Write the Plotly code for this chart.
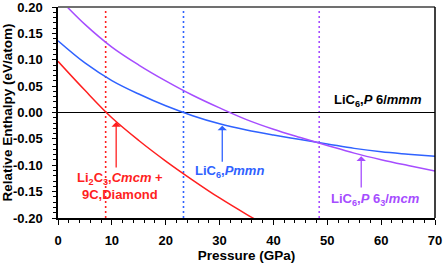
import plotly.graph_objects as go

# Pressure grid (GPa)
pressure = [0, 5, 10, 15, 20, 25, 30, 35, 40, 45, 50, 55, 60, 65, 70]

# Relative enthalpy (eV/atom) vs LiC6 P6/mmm
red_p = [0, 5, 10, 15, 20, 25, 30, 35, 40]
red_h = [0.097, 0.042, -0.010, -0.053, -0.092, -0.128, -0.162, -0.193, -0.222]
blue_h = [0.136, 0.094, 0.0606, 0.035, 0.0127, -0.0060, -0.0214, -0.0332, -0.0427,
          -0.0512, -0.0595, -0.0680, -0.0745, -0.0790, -0.0830]
purple_h = [0.218, 0.167, 0.124, 0.090, 0.060, 0.0327, 0.0087, -0.0135, -0.0318,
            -0.0475, -0.0625, -0.0770, -0.0895, -0.1005, -0.1110]

# Transition pressures (GPa)
trans_p = [8.85, 23.3, 48.5]

# Tick labels
x_ticks = [0, 10, 20, 30, 40, 50, 60, 70]
y_ticks = [-0.20, -0.15, -0.10, -0.05, 0.00, 0.05, 0.10, 0.15, 0.20]

RED = "#FF1F1F"
BLUE = "#2F62FF"
PURPLE = "#A64DFF"
colors = [RED, BLUE, PURPLE]
FONT = "Liberation Sans, Arial, sans-serif"

fig = go.Figure()
fig.add_trace(go.Scatter(x=red_p, y=red_h, mode="lines", line=dict(color=RED, width=1.5, shape="spline")))
fig.add_trace(go.Scatter(x=pressure, y=blue_h, mode="lines", line=dict(color=BLUE, width=1.5, shape="spline")))
fig.add_trace(go.Scatter(x=pressure, y=purple_h, mode="lines", line=dict(color=PURPLE, width=1.5, shape="spline")))

for p, c in zip(trans_p, colors):
    fig.add_shape(type="line", xref="x", yref="y", x0=p, x1=p, y0=-0.2, y1=0.2,
                  line=dict(color=c, width=1.6, dash="2px,3px"), layer="below")

# top frame (gray)
fig.add_shape(type="line", xref="paper", yref="paper", x0=0, x1=1, y0=1, y1=1,
              line=dict(color="#707070", width=2))
# right frame
fig.add_shape(type="line", xref="paper", yref="paper", x0=1, x1=1, y0=0, y1=1,
              line=dict(color="black", width=1.5))

# arrows: (head x, head y, tail y, color)
arrows = [
    (10.8, -0.018, -0.107, RED),
    (30.5, -0.025, -0.096, BLUE),
    (56.3, -0.083, -0.145, PURPLE),
]
for hx, hy, ty, c in arrows:
    fig.add_annotation(x=hx, y=hy, ax=hx, ay=ty, xref="x", yref="y", axref="x", ayref="y",
                       text="", showarrow=True, arrowhead=1, arrowsize=1.2, arrowwidth=1.3,
                       arrowcolor=c)

labels = [
    (11.5, -0.14, "<b>Li<sub>2</sub>C<sub>3</sub>,<i>Cmcm</i> +<br>9C,Diamond</b>", RED),
    (31.8, -0.111, "<b>LiC<sub>6</sub>,<i>Pmmn</i></b>", BLUE),
    (58.9, -0.164, "<b>LiC<sub>6</sub>,<i>P</i> 6<sub>3</sub>/<i>mcm</i></b>", PURPLE),
    (59.4, 0.023, "<b>LiC<sub>6</sub>,<i>P</i> 6/<i>mmm</i></b>", "#000000"),
]
for x, y, t, c in labels:
    fig.add_annotation(x=x, y=y, xref="x", yref="y", text=t, showarrow=False,
                       font=dict(family=FONT, size=13, color=c),
                       xanchor="center", yanchor="middle", align="center")

fig.update_layout(
    width=443, height=264,
    margin=dict(l=58, r=8, t=7, b=46, autoexpand=False),
    plot_bgcolor="white", paper_bgcolor="white",
    showlegend=False,
    font=dict(family=FONT, size=13, color="black"),
)
fig.update_xaxes(
    range=[0, 70], tickmode="array", tickvals=x_ticks,
    ticktext=[f"<b>{v}</b>" for v in x_ticks],
    showgrid=False, zeroline=False, automargin=False,
    showline=True, linecolor="black", linewidth=1.5, mirror=False,
    ticks="outside", ticklen=5, tickwidth=1.2, tickcolor="black",
    minor=dict(dtick=2, tick0=0, ticks="outside", ticklen=3, tickwidth=1, tickcolor="black"),
    tickfont=dict(family=FONT, size=13),
    ticklabelstandoff=5, ticklabeloverflow="allow",
    title=dict(text="<b>Pressure (GPa)</b>", font=dict(family=FONT, size=13.5), standoff=2),
)
fig.update_yaxes(
    range=[-0.2, 0.2], tickmode="array", tickvals=y_ticks,
    ticktext=[f"<b>{v:.2f}</b>" for v in y_ticks],
    showgrid=False, automargin=False,
    zeroline=True, zerolinecolor="black", zerolinewidth=1.3,
    showline=True, linecolor="black", linewidth=1.5, mirror=False,
    ticks="outside", ticklen=4, tickwidth=1.2, tickcolor="black",
    minor=dict(dtick=0.01, tick0=0, ticks="outside", ticklen=3, tickwidth=1, tickcolor="black"),
    tickfont=dict(family=FONT, size=13),
    ticklabelstandoff=7, ticklabeloverflow="allow",
    title=dict(text="<b>Relative Enthalpy (eV/atom)</b>", font=dict(family=FONT, size=13.5), standoff=4),
)

fig.write_html("out.html", config={"displayModeBar": False},
               post_script="document.body.style.margin='0';")
